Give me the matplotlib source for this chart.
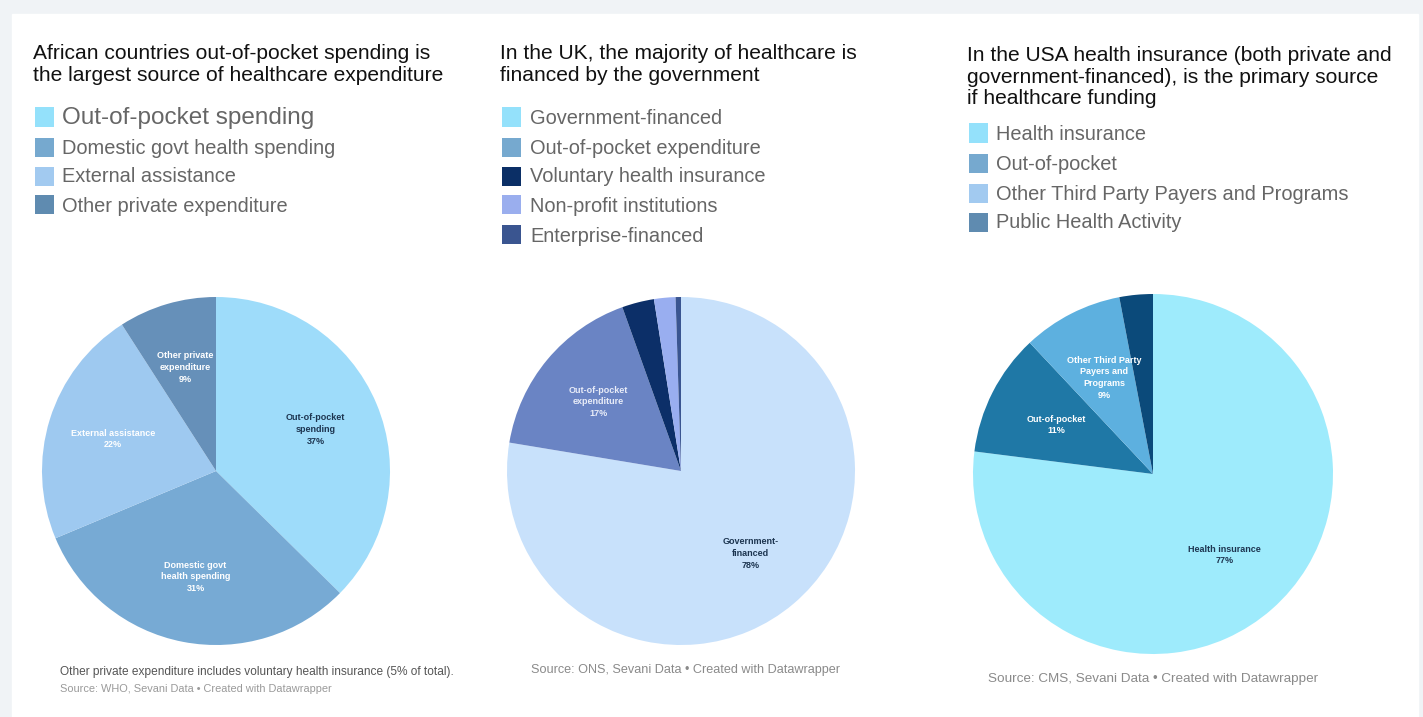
import matplotlib.pyplot as plt
from matplotlib.patches import Rectangle

plt.rcParams['font.family'] = ['Liberation Sans', 'DejaVu Sans']

W, H = 1423, 717

# --- Africa ---
africa_title = 'African countries out-of-pocket spending is\nthe largest source of healthcare expenditure'
africa_cats = ['Out-of-pocket spending', 'Domestic govt health spending',
               'External assistance', 'Other private expenditure']
africa_vals = [37, 31, 22, 9]
africa_slice = ['Out-of-pocket\nspending', 'Domestic govt\nhealth spending',
                'External assistance', 'Other private\nexpenditure']
africa_notes = ['Other private expenditure includes voluntary health insurance (5% of total).',
                'Source: WHO, Sevani Data \u2022 Created with Datawrapper']

# --- UK ---
uk_title = 'In the UK, the majority of healthcare is\nfinanced by the government'
uk_cats = ['Government-financed', 'Out-of-pocket expenditure',
           'Voluntary health insurance', 'Non-profit institutions', 'Enterprise-financed']
uk_vals = [78, 17, 3, 2, 0.5]
uk_slice = ['Government-\nfinanced', 'Out-of-pocket\nexpenditure', '', '', '']
uk_note = 'Source: ONS, Sevani Data \u2022 Created with Datawrapper'

# --- USA ---
usa_title = ('In the USA health insurance (both private and\n'
             'government-financed), is the primary source\nif healthcare funding')
usa_cats = ['Health insurance', 'Out-of-pocket',
            'Other Third Party Payers and Programs', 'Public Health Activity']
usa_vals = [77, 11, 9, 3]
usa_slice = ['Health insurance', 'Out-of-pocket',
             'Other Third Party\nPayers and\nPrograms', '']
usa_note = 'Source: CMS, Sevani Data \u2022 Created with Datawrapper'

legend_cols_a = ['#94e1fb', '#76a9cf', '#a2caf0', '#5f8bb0']
legend_cols_uk = ['#94e1fb', '#76a9cf', '#0b2f66', '#9aaeee', '#3a5590']

pie_cols_a = ['#9edcfa', '#77aad4', '#9ec9f0', '#6690b9']
pie_cols_uk = ['#c8e1fb', '#6a84c4', '#0c2f68', '#99aef0', '#3a5591']
pie_cols_usa = ['#9eebfc', '#1f78a6', '#5db0df', '#0b4a7a']

txt_a = ['#1d3550', 'white', 'white', 'white']
txt_uk = ['#1d3550', '#e8ecf8', 'white', 'white', 'white']
txt_usa = ['#1d3550', 'white', 'white', 'white']


def fx(x):
    return x / W


def fy(y):
    return 1 - y / H


fig = plt.figure(figsize=(W / 100, H / 100), dpi=100, facecolor='#f0f3f6')
fig.add_artist(Rectangle((fx(12), 0), fx(1418) - fx(12), fy(14),
                         transform=fig.transFigure, color='white', zorder=0))


def title(x, y, s):
    fig.text(fx(x), fy(y), s, fontsize=15.1, color='#111111', va='top',
             ha='left', linespacing=1.17)


def legend(x_sq, x_txt, rows, cats, cols, first_big=False):
    for i, (y, c, name) in enumerate(zip(rows, cols, cats)):
        fig.add_artist(Rectangle((fx(x_sq), fy(y + 9.5)), 19 / W, 19 / H,
                                 transform=fig.transFigure, color=c, lw=0))
        size = 17.5 if (first_big and i == 0) else 14.4
        fig.text(fx(x_txt), fy(y + 1), name, fontsize=size, color='#666666',
                 va='center', ha='left')


def pie(cx, cy, r, vals, cols, labels, tcols, dist):
    pad = 1.04
    ax = fig.add_axes([fx(cx - r * pad), fy(cy + r * pad),
                       2 * r * pad / W, 2 * r * pad / H])
    wedges, texts = ax.pie(vals, colors=cols, startangle=90, counterclock=False,
                           labels=labels, labeldistance=dist,
                           wedgeprops={'linewidth': 0},
                           textprops={'fontsize': 6.5, 'fontweight': 'bold',
                                      'linespacing': 1.4})
    for t, c in zip(texts, tcols):
        t.set_ha('center')
        t.set_va('center')
        t.set_color(c)
    for t, v in zip(texts, vals):
        if t.get_text():
            t.set_text(t.get_text() + '\n%d%%' % v)
    ax.set_xlim(-pad, pad)
    ax.set_ylim(-pad, pad)
    ax.set_axis_off()
    return ax


title(33, 44, africa_title)
legend(35, 62, [117, 147, 176, 205], africa_cats, legend_cols_a, first_big=True)
pie(216, 471, 174, africa_vals, pie_cols_a, africa_slice, txt_a, 0.62)
fig.text(fx(60), fy(672), africa_notes[0], fontsize=8.55, color='#555555', va='center')
fig.text(fx(60), fy(689), africa_notes[1], fontsize=7.9, color='#9a9a9a', va='center')

title(500, 44, uk_title)
legend(502, 530, [117, 147, 176, 205, 235], uk_cats, legend_cols_uk)
pie(681, 471, 174, uk_vals, pie_cols_uk, uk_slice, txt_uk, 0.62)
fig.text(fx(531), fy(670), uk_note, fontsize=9.1, color='#8a8a8a', va='center')

title(967, 46, usa_title)
legend(969, 996, [133, 163, 193, 222], usa_cats, legend_cols_a)
pie(1153, 474, 180, usa_vals, pie_cols_usa, usa_slice, txt_usa, 0.6)
fig.text(fx(988), fy(679), usa_note, fontsize=9.7, color='#8a8a8a', va='center')

fig.savefig('out.png', dpi=100, facecolor=fig.get_facecolor())
